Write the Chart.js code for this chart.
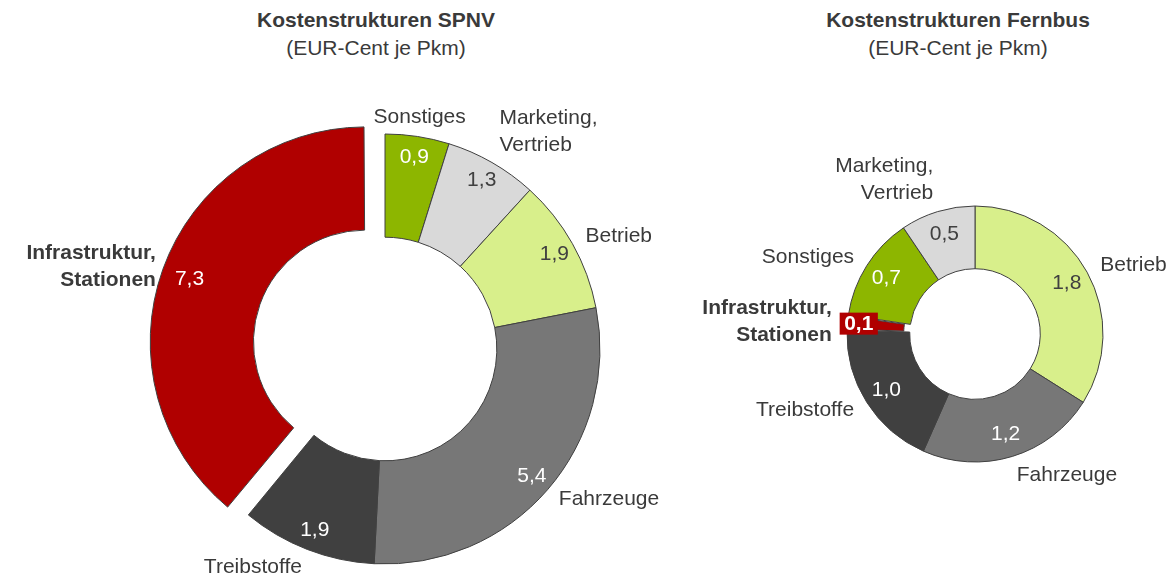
<!DOCTYPE html>
<html lang="de">
<head>
<meta charset="utf-8">
<title>Kostenstrukturen SPNV / Fernbus</title>
<script src="https://cdn.jsdelivr.net/npm/chart.js@4.4.1/dist/chart.umd.min.js"></script>
<style>
  html, body { margin: 0; padding: 0; background: #fff; overflow: hidden; width: 1167px; height: 582px; }
  .title {
    position: absolute; top: 6px; width: 400px; text-align: center;
    font-family: "Liberation Sans", Arial, sans-serif; font-size: 21px; line-height: 28px; color: #3a3a3a;
  }
  .title b { display: block; }
  canvas { position: absolute; }
</style>
</head>
<body>
  <div class="title" style="left:176px"><b>Kostenstrukturen SPNV</b>(EUR-Cent je Pkm)</div>
  <div class="title" style="left:758px"><b>Kostenstrukturen Fernbus</b>(EUR-Cent je Pkm)</div>
  <canvas id="spnv" width="770" height="518" style="left:0;top:90px"></canvas>
  <canvas id="fernbus" width="570" height="488" style="left:690px;top:90px"></canvas>

<script>
// SPNV, clockwise from top
const spnvLabels = ['Sonstiges', ['Marketing,', 'Vertrieb'], 'Betrieb', 'Fahrzeuge', 'Treibstoffe', ['Infrastruktur,', 'Stationen']];
const spnvValues = [0.9, 1.3, 1.9, 5.4, 1.9, 7.3];

// Fernbus, clockwise from top
const fernbusLabels = ['Betrieb', 'Fahrzeuge', 'Treibstoffe', ['Infrastruktur,', 'Stationen'], 'Sonstiges', ['Marketing,', 'Vertrieb']];
const fernbusValues = [1.8, 1.2, 1.0, 0.1, 0.7, 0.5];

const sliceColors = {
  'Sonstiges': '#8db600',
  'Marketing,': '#d9d9d9',
  'Betrieb': '#d8ef8b',
  'Fahrzeuge': '#777777',
  'Treibstoffe': '#404040',
  'Infrastruktur,': '#b00000'
};

const FONT = '"Liberation Sans", Arial, sans-serif';
const keyOf = l => Array.isArray(l) ? l[0] : l;

function isLight(hex) {
  const r = parseInt(hex.slice(1, 3), 16), g = parseInt(hex.slice(3, 5), 16), b = parseInt(hex.slice(5, 7), 16);
  return 0.299 * r + 0.587 * g + 0.114 * b > 180;
}

// Chart.js grows an offset arc's radii, take that back so the exploded slice keeps the ring size
const keepRadius = {
  id: 'keepRadius',
  afterDatasetUpdate(chart, args) {
    const ds = chart.data.datasets[args.index];
    args.meta.data.forEach((arc, i) => {
      const off = (ds.offset[i] || 0) / 4;
      if (!off) return;
      const fix = 1 - Math.sin(Math.min(Math.PI, arc.circumference));
      arc.outerRadius -= off * fix;
      arc.innerRadius -= off * fix;
    });
  }
};

const sliceLabels = {
  id: 'sliceLabels',
  afterDatasetsDraw(chart, args, opts) {
    const ctx = chart.ctx;
    const ds = chart.data.datasets[0];
    const total = ds.data.reduce((a, b) => a + b, 0);
    ctx.save();
    ctx.textBaseline = 'middle';
    chart.getDatasetMeta(0).data.forEach((arc, i) => {
      const mid = (arc.startAngle + arc.endAngle) / 2;
      const cos = Math.cos(mid), sin = Math.sin(mid);
      const shift = (ds.offset[i] || 0) / 4;
      const cx = arc.x + cos * shift, cy = arc.y + sin * shift;
      const value = ds.data[i];
      const txt = value.toFixed(1).replace('.', ',');
      const bg = ds.backgroundColor[i];

      // value inside the slice
      if (value / total < 0.03) {
        const r = arc.outerRadius - 12;
        const x = cx + cos * r, y = cy + sin * r;
        ctx.font = 'bold 21px ' + FONT;
        const w = ctx.measureText(txt).width + 9;
        ctx.fillStyle = bg;
        ctx.fillRect(x - w / 2, y - 11, w, 22);
        ctx.fillStyle = '#ffffff';
        ctx.textAlign = 'center';
        ctx.fillText(txt, x, y + 1);
      } else {
        const r = arc.innerRadius + opts.valuePos * (arc.outerRadius - arc.innerRadius);
        ctx.font = '21px ' + FONT;
        ctx.fillStyle = isLight(bg) ? '#404040' : '#ffffff';
        ctx.textAlign = 'center';
        ctx.fillText(txt, cx + cos * r, cy + sin * r);
      }

      // category name outside
      const lines = [].concat(chart.data.labels[i]);
      const R = arc.outerRadius + opts.gap;
      const px = cx + cos * R, py = cy + sin * R;
      ctx.font = (shift ? 'bold ' : '') + '21px ' + FONT;
      ctx.fillStyle = '#3a3a3a';
      ctx.textAlign = cos > 0.25 ? 'left' : (cos < -0.25 ? 'right' : 'center');
      const lh = 27;
      let y0;
      if (sin < -0.8) y0 = py - 4 - (lines.length - 1) * lh;
      else if (sin > 0.8) y0 = py + 4;
      else y0 = py - (lines.length - 1) * lh / 2;
      lines.forEach((l, k) => ctx.fillText(l, px, y0 + k * lh));
    });
    ctx.restore();
  }
};

function makeDoughnut(id, labels, values, radius, cutout, explode, valuePos) {
  new Chart(document.getElementById(id), {
    type: 'doughnut',
    data: {
      labels: labels,
      datasets: [{
        data: values,
        backgroundColor: labels.map(l => sliceColors[keyOf(l)]),
        borderColor: '#404040',
        borderWidth: 1,
        offset: labels.map(l => keyOf(l) === 'Infrastruktur,' ? explode : 0)
      }]
    },
    options: {
      responsive: false,
      animation: false,
      events: [],
      radius: radius,
      cutout: cutout,
      layout: { padding: 0 },
      plugins: {
        legend: { display: false },
        tooltip: { enabled: false },
        sliceLabels: { valuePos: valuePos, gap: 15 }
      }
    },
    plugins: [keepRadius, sliceLabels]
  });
}

makeDoughnut('spnv', spnvLabels, spnvValues, 215, '52%', 84, 0.8);
makeDoughnut('fernbus', fernbusLabels, fernbusValues, 128, '51%', 24, 0.63);
</script>
</body>
</html>
